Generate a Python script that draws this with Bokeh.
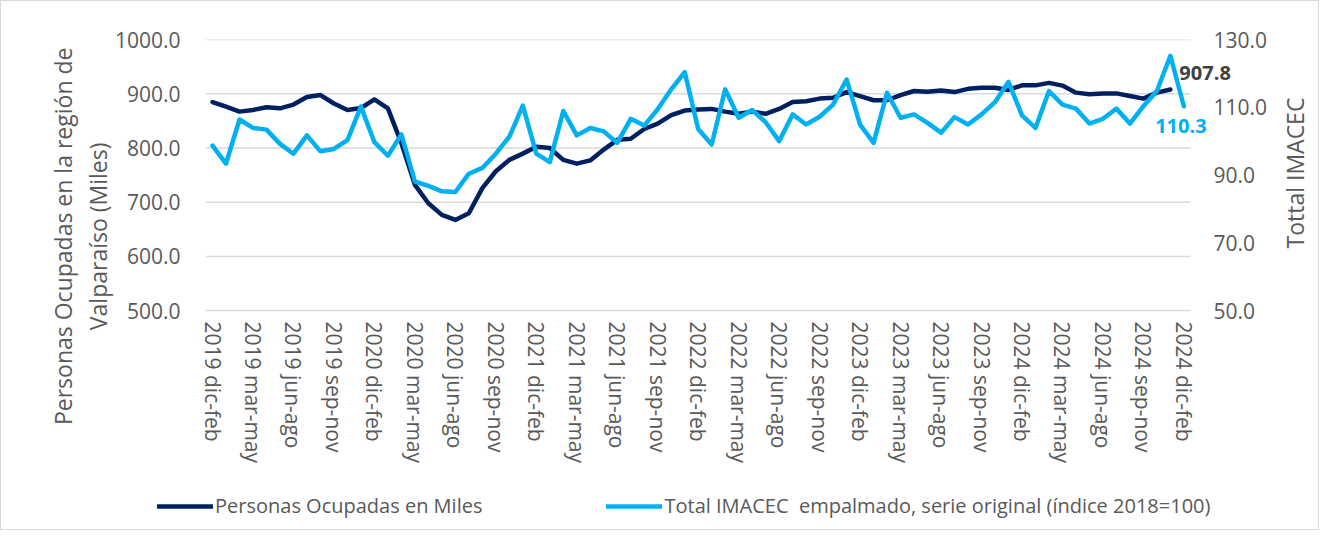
import math
from bokeh.plotting import figure
from bokeh.models import (Range1d, LinearAxis, FixedTicker, Legend, LegendItem, Label,
                          PrintfTickFormatter)
from bokeh.embed import file_html
from bokeh.resources import INLINE

tick_labels = [
    "2019 dic-feb", "2019 mar-may", "2019 jun-ago", "2019 sep-nov",
    "2020 dic-feb", "2020 mar-may", "2020 jun-ago", "2020 sep-nov",
    "2021 dic-feb", "2021 mar-may", "2021 jun-ago", "2021 sep-nov",
    "2022 dic-feb", "2022 mar-may", "2022 jun-ago", "2022 sep-nov",
    "2023 dic-feb", "2023 mar-may", "2023 jun-ago", "2023 sep-nov",
    "2024 dic-feb", "2024 mar-may", "2024 jun-ago", "2024 sep-nov",
    "2024 dic-feb",
]

ocupados = [
    884.6, 876, 867, 870, 875, 873, 880, 894, 897.5, 882, 870, 873.5,
    889.5, 873, 809, 732, 698, 676.5, 667.3, 679.6, 726, 757, 778, 789.5,
    802, 800, 778, 771, 777, 797, 815, 817, 835, 845, 860.5, 869,
    871, 872, 867, 863, 867, 863, 872, 884.6, 886, 891, 892.6, 903,
    895.7, 888, 888, 897.5, 905, 903.7, 906, 903, 909, 911, 911, 907,
    915.4, 915.4, 920, 915, 902, 899, 900.6, 900.6, 895.7, 891, 902, 907.8,
]

imacec = [
    98.7, 93.4, 106.4, 103.9, 103.4, 99.2, 96.3, 101.7, 97, 97.7, 100.3, 110.2,
    99.7, 95.7, 102, 88.1, 86.8, 85.2, 85, 90.4, 92.1, 96.3, 101.3, 110.5,
    96.3, 93.8, 108.9, 101.7, 103.9, 102.9, 99.5, 106.6, 104.6, 109.4, 115.3, 120.4,
    103.6, 99, 115.3, 106.9, 109.2, 105.6, 100, 107.9, 104.9, 107.2, 110.8, 118.2,
    104.9, 99.5, 114.3, 106.9, 107.9, 105.4, 102.5, 107.1, 104.9, 107.9, 111.5, 117.5,
    107.6, 103.9, 114.8, 110.8, 109.6, 105.2, 106.6, 109.6, 105.2, 110.3, 114.8, 125.2,
    110.3,
]

left_ticks = [500, 600, 700, 800, 900, 1000]
right_ticks = [50, 70, 90, 110, 130]

series_names = [
    "Personas Ocupadas en Miles",
    "Total IMACEC  empalmado, serie original (índice 2018=100)",
]
left_title = ["Personas Ocupadas en la región de", "Valparaíso (Miles)"]
right_title = "Tottal IMACEC"

DARK = "#002060"
LIGHT = "#00B0F0"
GREY_TXT = "#595959"
GRID = "#d9d9d9"
FONT = "Open Sans"

# ---- layout (page pixels; the canvas starts 1px in because of the css border) ----
FIG_W, FIG_H = 1319, 530
ORIGIN = 1
FL_A, FR_A, FT_A, FB_A = 31, 1317, 39, 528     # frame box on the page
PLOT_L, PLOT_B = 205, 309                       # left edge of categories / row of axis minimum
PX_PER_CAT = 13.47

n = len(imacec)
x_dark = list(range(len(ocupados)))
x_light = list(range(n))
tick_pos = list(range(0, n, 3))
x_first, x_last = -0.5, n - 0.5
x_start = x_first - (PLOT_L - FL_A) / PX_PER_CAT
x_end = x_start + (FR_A - FL_A) / PX_PER_CAT

L_MIN, L_MAX = left_ticks[0], left_ticks[-1]
R_MIN, R_MAX = right_ticks[0], right_ticks[-1]
px_per_l = (PLOT_B - FT_A) / (L_MAX - L_MIN)
px_per_r = (PLOT_B - FT_A) / (R_MAX - R_MIN)
y_lo = L_MAX - (FB_A - FT_A) / px_per_l
yr_lo = R_MAX - (FB_A - FT_A) / px_per_r

def xd(px):   # page column -> data x
    return x_start + (px - FL_A) / PX_PER_CAT

def yd(py):   # page row -> left data y
    return L_MAX - (py - FT_A) / px_per_l

p = figure(width=FIG_W, height=FIG_H, output_backend="svg", toolbar_location=None,
           x_range=Range1d(x_start, x_end), y_range=Range1d(y_lo, L_MAX),
           min_border_left=FL_A - ORIGIN, min_border_right=FIG_W - ORIGIN - FR_A,
           min_border_top=FT_A - ORIGIN, min_border_bottom=FIG_H - ORIGIN - FB_A,
           background_fill_color="white", border_fill_color="white")
p.styles = {"border": "1px solid #d9d9d9"}
p.outline_line_color = None
p.extra_y_ranges = {"imacec": Range1d(yr_lo, R_MAX)}
p.xgrid.grid_line_color = None
p.ygrid.grid_line_color = None

# horizontal grid lines over the category span
p.segment(x0=[x_first] * len(left_ticks), x1=[x_last] * len(left_ticks),
          y0=left_ticks, y1=left_ticks, line_color=GRID, line_width=1.5, level="underlay")

# left axis
la = p.yaxis[0]
la.ticker = FixedTicker(ticks=left_ticks)
la.formatter = PrintfTickFormatter(format="%.1f")
la.axis_line_color = None
la.major_tick_line_color = None
la.minor_tick_line_color = None
la.major_label_text_font = FONT
la.major_label_text_font_size = "21px"
la.major_label_text_color = GREY_TXT
la.major_label_standoff = FL_A - 186

# right axis
ra = LinearAxis(y_range_name="imacec", ticker=FixedTicker(ticks=right_ticks),
                formatter=PrintfTickFormatter(format="%.1f"))
ra.axis_line_color = None
ra.major_tick_line_color = None
ra.minor_tick_line_color = None
ra.major_label_text_font = FONT
ra.major_label_text_font_size = "21px"
ra.major_label_text_color = GREY_TXT
ra.major_label_standoff = 1205 - FR_A
p.add_layout(ra, "right")

# x axis
xa = p.xaxis[0]
xa.ticker = FixedTicker(ticks=tick_pos)
xa.major_label_overrides = {t: lab for t, lab in zip(tick_pos, tick_labels)}
xa.major_label_orientation = "vertical"
xa.major_label_text_font = FONT
xa.major_label_text_font_size = "21px"
xa.major_label_text_color = GREY_TXT
xa.major_label_standoff = 313 - FB_A
xa.axis_line_color = None
xa.major_tick_line_color = None
xa.minor_tick_line_color = None

r1 = p.line(x_dark, ocupados, line_color=DARK, line_width=4.5, line_join="round", line_cap="round")
r2 = p.line(x_light, imacec, line_color=LIGHT, line_width=4.5, line_join="round", line_cap="round",
            y_range_name="imacec")

lab1 = Label(x=x_dark[-1], y=ocupados[-1], text=f"{ocupados[-1]:.1f}", x_offset=9, y_offset=16,
             text_font=FONT, text_font_size="20px", text_font_style="bold", text_color="#404040",
             text_align="left", text_baseline="middle")
lab2 = Label(x=x_light[-1], y=imacec[-1], y_range_name="imacec", text=f"{imacec[-1]:.1f}",
             x_offset=-3, y_offset=-20, text_font=FONT, text_font_size="20px", text_font_style="bold",
             text_color=LIGHT, text_align="center", text_baseline="middle")
p.add_layout(lab1)
p.add_layout(lab2)

for txt, cx in zip(left_title, [62, 97]):
    p.add_layout(Label(x=xd(cx), y=yd(235), text=txt, angle=math.pi / 2,
                       text_font=FONT, text_font_size="23px", text_color=GREY_TXT,
                       text_align="center", text_baseline="middle"))
p.add_layout(Label(x=xd(1293), y=yd(172), text=right_title, angle=math.pi / 2,
                   text_font=FONT, text_font_size="23px", text_color=GREY_TXT,
                   text_align="center", text_baseline="middle"))

legend = Legend(items=[LegendItem(label=series_names[0], renderers=[r1]),
                       LegendItem(label=series_names[1], renderers=[r2])],
                orientation="horizontal", location=(157 - FL_A, FB_A - 517),
                glyph_width=56, glyph_height=20, label_standoff=2, spacing=124,
                padding=0, margin=0, border_line_color=None, background_fill_alpha=0,
                label_text_font=FONT, label_text_font_size="20px", label_text_color=GREY_TXT)
p.add_layout(legend, "center")

open("out.html", "w").write(file_html(p, INLINE))
